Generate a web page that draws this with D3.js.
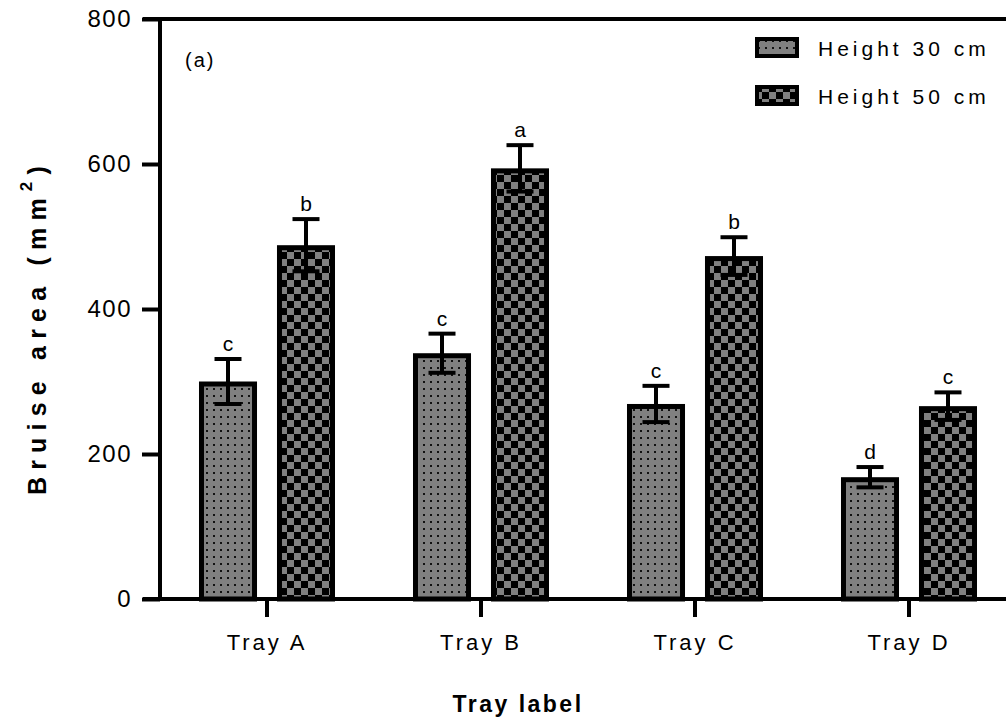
<!DOCTYPE html>
<html>
<head>
<meta charset="utf-8">
<script src="https://cdn.jsdelivr.net/npm/d3@7"></script>
<style>
  body { margin: 0; background: #fff; }
  svg { display: block; font-family: 'Liberation Sans', Arial, sans-serif; }
</style>
</head>
<body>
<div id="chart"></div>
<script>
// 데이터
const trays = ['Tray A', 'Tray B', 'Tray C', 'Tray D'];
const series = ['Height 30 cm', 'Height 50 cm'];
const height30 = [300, 339, 269, 168];
const height50 = [488, 594, 473, 266];
const err30 = [31, 27, 25, 14];
const err50 = [36, 32, 26, 19];
const letters30 = ['c', 'c', 'c', 'd'];
const letters50 = ['b', 'a', 'b', 'c'];
const yTicks = [0, 200, 400, 600, 800];

const width = 1006;
const height = 719;
const margin = { top: 19, left: 160, bottom: 120, right: -10 };

const rows = [];
trays.forEach((t, i) => {
  rows.push({ tray: t, key: series[0], value: height30[i], err: err30[i], letter: letters30[i] });
  rows.push({ tray: t, key: series[1], value: height50[i], err: err50[i], letter: letters50[i] });
});

const svg = d3
  .select('#chart')
  .append('svg')
  .attr('width', width)
  .attr('height', height)
  .attr('viewBox', `0 0 ${width} ${height}`);

// 패턴 정의
const defs = svg.append('defs');
const dots = defs.append('pattern').attr('id', 'dots').attr('patternUnits', 'userSpaceOnUse')
  .attr('width', 7).attr('height', 7);
dots.append('rect').attr('width', 7).attr('height', 7).attr('fill', '#808080');
dots.append('rect').attr('x', 3).attr('y', 3).attr('width', 2).attr('height', 2).attr('fill', '#111');

const checker = defs.append('pattern').attr('id', 'checker').attr('patternUnits', 'userSpaceOnUse')
  .attr('width', 14).attr('height', 14);
checker.append('rect').attr('width', 14).attr('height', 14).attr('fill', '#808080');
checker.append('rect').attr('width', 7).attr('height', 7).attr('fill', '#000');
checker.append('rect').attr('x', 7).attr('y', 7).attr('width', 7).attr('height', 7).attr('fill', '#000');

const fills = { 'Height 30 cm': 'url(#dots)', 'Height 50 cm': 'url(#checker)' };

const x0 = d3.scaleBand().domain(trays).range([margin.left, width - margin.right]).padding(0);
const x1 = d3.scaleBand().domain(series).range([0, x0.bandwidth()]).paddingInner(0.256).paddingOuter(0.5);
const y = d3.scaleLinear().domain([0, 800]).range([height - margin.bottom, margin.top]);

const sw = 5; // 막대 테두리
const bw = x1.bandwidth();

// 막대
svg.append('g')
  .selectAll('rect')
  .data(rows)
  .enter()
  .append('rect')
  .attr('x', (d) => x0(d.tray) + x1(d.key) + sw / 2)
  .attr('y', (d) => y(d.value) + sw / 2)
  .attr('width', bw - sw)
  .attr('height', (d) => y(0) - y(d.value) - sw / 2)
  .attr('fill', (d) => fills[d.key])
  .attr('stroke', '#000')
  .attr('stroke-width', sw);

// 에러바
const eb = svg.append('g').attr('stroke', '#000').attr('stroke-width', 4);
rows.forEach((d) => {
  const cx = x0(d.tray) + x1(d.key) + bw / 2;
  eb.append('line').attr('x1', cx).attr('x2', cx).attr('y1', y(d.value + d.err)).attr('y2', y(d.value - d.err));
  eb.append('line').attr('x1', cx - 13.5).attr('x2', cx + 13.5).attr('y1', y(d.value + d.err)).attr('y2', y(d.value + d.err));
  eb.append('line').attr('x1', cx - 13.5).attr('x2', cx + 13.5).attr('y1', y(d.value - d.err)).attr('y2', y(d.value - d.err));
});

// 유의성 문자
svg.append('g')
  .selectAll('text')
  .data(rows)
  .enter()
  .append('text')
  .attr('x', (d) => x0(d.tray) + x1(d.key) + bw / 2)
  .attr('y', (d) => y(d.value + d.err) - 8)
  .attr('text-anchor', 'middle')
  .style('font-size', '21px')
  .text((d) => d.letter);

// y축
const yAxis = (g) =>
  g
    .attr('transform', `translate(${margin.left}, 0)`)
    .call(d3.axisLeft(y).tickValues(yTicks).tickSize(18).tickPadding(10))
    .call((g) => g.select('.domain').remove())
    .call((g) => g.selectAll('line').attr('stroke', '#000').attr('stroke-width', 4))
    .call((g) => g.selectAll('text').style('font-size', '24px').style('letter-spacing', '1.5px').attr('fill', '#000').attr('font-family', null));
svg.append('g').call(yAxis);

// x축
const xAxis = (g) =>
  g
    .attr('transform', `translate(0, ${y(0)})`)
    .call(d3.axisBottom(x0).tickSize(18).tickPadding(17))
    .call((g) => g.select('.domain').remove())
    .call((g) => g.selectAll('line').attr('stroke', '#000').attr('stroke-width', 4))
    .call((g) => g.selectAll('text').style('font-size', '22px').style('letter-spacing', '3px').attr('fill', '#000').attr('font-family', null));
svg.append('g').call(xAxis);

// 축 선
svg.append('line').attr('x1', margin.left).attr('x2', margin.left).attr('y1', y(800) - 2).attr('y2', y(0) + 2)
  .attr('stroke', '#000').attr('stroke-width', 4);
svg.append('line').attr('x1', 143).attr('x2', width).attr('y1', y(0)).attr('y2', y(0))
  .attr('stroke', '#000').attr('stroke-width', 4);
svg.append('line').attr('x1', 143).attr('x2', width).attr('y1', y(800)).attr('y2', y(800))
  .attr('stroke', '#000').attr('stroke-width', 4);

// 축 제목
svg.append('text')
  .attr('x', 518).attr('y', 712)
  .attr('text-anchor', 'middle')
  .style('font-size', '23px').style('font-weight', 'bold').style('letter-spacing', '2.5px')
  .text('Tray label');

const yt = svg.append('text')
  .attr('transform', 'translate(46, 327) rotate(-90)')
  .attr('text-anchor', 'middle')
  .style('font-size', '25px').style('font-weight', 'bold').style('letter-spacing', '7.2px');
yt.append('tspan').text('Bruise area (mm');
yt.append('tspan').attr('dy', -14).style('font-size', '17px').text('2');
yt.append('tspan').attr('dy', 14).text(')');

// 패널 라벨
svg.append('text').attr('x', 185).attr('y', 67).style('font-size', '20px').style('letter-spacing', '2px').text('(a)');

// 범례
const legend = svg.append('g')
  .selectAll('g')
  .data(series)
  .enter()
  .append('g')
  .attr('transform', (d, i) => `translate(755, ${37 + i * 48})`);
legend.append('rect').attr('x', 2).attr('y', 2).attr('width', 40).attr('height', 17)
  .attr('fill', (d) => fills[d]).attr('stroke', '#000').attr('stroke-width', 4);
legend.append('text').attr('x', 63).attr('y', 19)
  .style('font-size', '21px').style('letter-spacing', '4px')
  .text((d) => d);

svg.node();
</script>
</body>
</html>
